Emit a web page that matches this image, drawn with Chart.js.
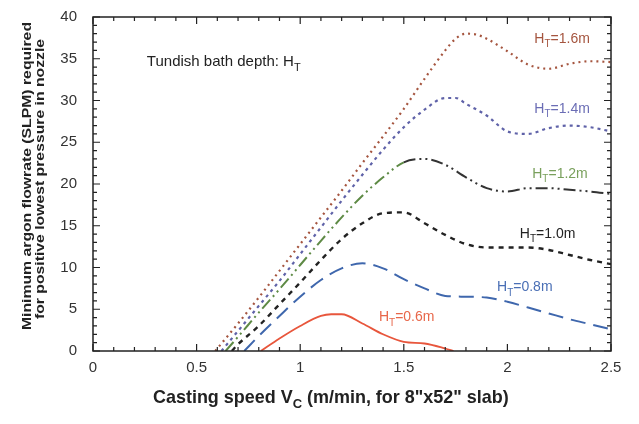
<!DOCTYPE html>
<html>
<head>
<meta charset="utf-8">
<script src="https://cdn.jsdelivr.net/npm/chart.js@4.4.1/dist/chart.umd.min.js"></script>
<style>
  body { margin: 0; background: #fff; }
  #wrap { width: 639px; height: 424px; }
</style>
</head>
<body>
<div id="wrap"><canvas id="flowChart" width="639" height="424"></canvas></div>
<script>
// ===================================
// DATA
// ===================================
const speed16 = [0.59, 0.7, 0.8, 0.9, 1.0, 1.1, 1.2, 1.3, 1.4, 1.5, 1.6, 1.7, 1.75, 1.8, 1.85, 1.9, 2.0, 2.1, 2.2, 2.3, 2.4, 2.5];
const flow16  = [0, 3.3, 6.4, 9.6, 12.8, 16.0, 19.2, 22.5, 25.7, 29.0, 32.6, 36.0, 37.4, 38.0, 37.9, 37.4, 35.9, 34.3, 33.8, 34.4, 34.7, 34.6];

const speed14 = [0.62, 0.7, 0.8, 0.9, 1.0, 1.1, 1.2, 1.3, 1.4, 1.5, 1.6, 1.7, 1.75, 1.8, 1.9, 2.0, 2.1, 2.2, 2.3, 2.4, 2.5];
const flow14  = [0, 2.4, 5.4, 8.4, 11.6, 14.8, 18.0, 21.1, 24.1, 26.8, 28.9, 30.3, 30.3, 29.6, 28.2, 26.3, 26.0, 26.7, 27.0, 26.8, 26.3];

const speed12 = [0.64, 0.7, 0.8, 0.9, 1.0, 1.1, 1.2, 1.3, 1.4, 1.5, 1.6, 1.7, 1.8, 1.9, 2.0, 2.1, 2.2, 2.3, 2.4, 2.5];
const flow12  = [0, 1.7, 4.6, 7.4, 10.3, 13.2, 16.0, 18.6, 20.8, 22.6, 23.0, 22.3, 20.8, 19.5, 19.1, 19.5, 19.5, 19.3, 19.1, 18.8];

const speed10 = [0.67, 0.7, 0.8, 0.9, 1.0, 1.1, 1.2, 1.3, 1.4, 1.5, 1.6, 1.7, 1.8, 1.9, 2.0, 2.1, 2.2, 2.3, 2.4, 2.5];
const flow10  = [0, 0.8, 3.0, 5.6, 8.2, 10.9, 13.4, 15.3, 16.5, 16.6, 15.3, 13.9, 12.8, 12.4, 12.4, 12.4, 12.1, 11.5, 10.9, 10.4];

const speed08 = [0.73, 0.8, 0.9, 1.0, 1.1, 1.2, 1.3, 1.4, 1.5, 1.6, 1.7, 1.8, 1.9, 2.0, 2.1, 2.2, 2.3, 2.4, 2.5];
const flow08  = [0, 1.8, 4.2, 6.5, 8.5, 9.9, 10.5, 9.9, 8.6, 7.5, 6.6, 6.5, 6.4, 5.9, 5.2, 4.5, 3.8, 3.2, 2.6];

const speed06 = [0.81, 0.9, 1.0, 1.1, 1.15, 1.2, 1.3, 1.4, 1.5, 1.6, 1.7, 1.74];
const flow06  = [0, 1.5, 3.0, 4.2, 4.4, 4.4, 3.3, 2.0, 1.1, 0.9, 0.3, 0];

const depthLabels = ["1.6m", "1.4m", "1.2m", "1.0m", "0.8m", "0.6m"];
const xTicks = [0, 0.5, 1, 1.5, 2, 2.5];
const yTicks = [0, 5, 10, 15, 20, 25, 30, 35, 40];

// ===================================
// HELPERS
// ===================================
const FONT = "'Liberation Sans', Arial, Helvetica, sans-serif";

function toPoints(xs, ys) {
  return xs.map((x, i) => ({ x: x, y: ys[i] }));
}

function drawSubText(ctx, parts, x, y, size, color, weight) {
  // parts: [text, subscript, text]
  ctx.save();
  ctx.fillStyle = color;
  ctx.textBaseline = "middle";
  ctx.textAlign = "left";
  let cx = x;
  parts.forEach((p, i) => {
    const isSub = i === 1;
    ctx.font = (weight || "normal") + " " + (isSub ? Math.round(size * 0.7) : size) + "px " + FONT;
    ctx.fillText(p, cx, isSub ? y + size * 0.38 : y);
    cx += ctx.measureText(p).width;
  });
  ctx.restore();
}

function measureSubText(ctx, parts, size, weight) {
  let w = 0;
  parts.forEach((p, i) => {
    ctx.font = (weight || "normal") + " " + (i === 1 ? Math.round(size * 0.7) : size) + "px " + FONT;
    w += ctx.measureText(p).width;
  });
  return w;
}

// curve labels: [value x, value y, colour]
const labelSpots = [
  [2.13, 37.4, "#a5553f"],
  [2.13, 29.0, "#6b6db5"],
  [2.12, 21.2, "#79a05c"],
  [2.06, 14.0, "#222222"],
  [1.95, 7.6, "#4a6fb5"],
  [1.38, 4.0, "#e8674a"]
];

// ===================================
// PLUGINS
// ===================================
const framePlugin = {
  id: "frame",
  afterDraw(chart) {
    const { ctx, chartArea: a, scales } = chart;
    const xs = scales.x, ys = scales.y;
    ctx.save();
    ctx.strokeStyle = "#222";
    ctx.lineWidth = 1.5;
    ctx.strokeRect(a.left, a.top, a.right - a.left, a.bottom - a.top);
    // inward ticks
    ctx.lineWidth = 1.2;
    ctx.beginPath();
    for (let i = 0; i <= 25; i++) {
      const px = xs.getPixelForValue(i / 10);
      const len = i % 5 === 0 ? 7 : 4;
      ctx.moveTo(px, a.bottom); ctx.lineTo(px, a.bottom - len);
      ctx.moveTo(px, a.top); ctx.lineTo(px, a.top + len);
    }
    for (let i = 0; i <= 40; i++) {
      const py = ys.getPixelForValue(i);
      const len = i % 5 === 0 ? 7 : 4;
      ctx.moveTo(a.left, py); ctx.lineTo(a.left + len, py);
      ctx.moveTo(a.right, py); ctx.lineTo(a.right - len, py);
    }
    ctx.stroke();
    ctx.restore();

    // curve labels
    labelSpots.forEach((s, i) => {
      drawSubText(ctx, ["H", "T", "=" + depthLabels[i]], xs.getPixelForValue(s[0]), ys.getPixelForValue(s[1]), 14, s[2]);
    });
    drawSubText(ctx, ["Tundish bath depth: H", "T", ""], xs.getPixelForValue(0.26), ys.getPixelForValue(34.6), 15, "#222");

    // x axis title, sized to the reference width
    const xParts = ["Casting speed V", "C", " (m/min, for 8\"x52\" slab)"];
    const xSize = 15 * 356 / measureSubText(ctx, xParts, 15, "bold");
    drawSubText(ctx, xParts, 153, 398, xSize, "#222", "bold");

    // y axis title, two lines stretched to the reference length
    ctx.save();
    ctx.fillStyle = "#222";
    ctx.textAlign = "center";
    ctx.textBaseline = "middle";
    ctx.font = "bold 12.5px " + FONT;
    const l1 = "Minimum argon flowrate (SLPM) required";
    const l2 = "for positive lowest pressure in nozzle";
    const sx = 308 / ctx.measureText(l1).width;
    ctx.translate(0, 176);
    ctx.rotate(-Math.PI / 2);
    ctx.scale(sx, 1);
    ctx.fillText(l1, 0, 28);
    ctx.fillText(l2, -3 / sx, 41);
    ctx.restore();
  }
};

// ===================================
// CHART
// ===================================
const base = {
  showLine: true,
  pointRadius: 0,
  borderWidth: 2,
  fill: false,
  cubicInterpolationMode: "monotone"
};

new Chart(document.getElementById("flowChart"), {
  type: "scatter",
  data: {
    datasets: [
      Object.assign({}, base, { label: "1.6", data: toPoints(speed16, flow16), borderColor: "#a5553f", borderDash: [2, 4], borderWidth: 2.2 }),
      Object.assign({}, base, { label: "1.4", data: toPoints(speed14, flow14), borderColor: "#5f62a8", borderDash: [3, 4], borderWidth: 2.2 }),
      Object.assign({}, base, {
        label: "1.2", data: toPoints(speed12, flow12), borderColor: "#5e8a45",
        borderDash: [12, 4, 2, 4, 2, 4],
        segment: { borderColor: (c) => (c.p0.parsed.x < 1.5 ? "#5e8a45" : "#333") }
      }),
      Object.assign({}, base, { label: "1.0", data: toPoints(speed10, flow10), borderColor: "#222", borderDash: [5, 5], borderWidth: 2.4 }),
      Object.assign({}, base, { label: "0.8", data: toPoints(speed08, flow08), borderColor: "#3f67ad", borderDash: [15, 8] }),
      Object.assign({}, base, { label: "0.6", data: toPoints(speed06, flow06), borderColor: "#e8563c", borderWidth: 1.8 })
    ]
  },
  options: {
    responsive: false,
    animation: false,
    layout: { padding: { top: 16, right: 28, left: 0, bottom: 0 } },
    plugins: { legend: { display: false }, tooltip: { enabled: false } },
    scales: {
      x: {
        type: "linear", min: 0, max: 2.5,
        grid: { display: false },
        border: { display: false },
        afterFit: (s) => { s.height = 73; },
        afterBuildTicks: (s) => { s.ticks = xTicks.map((v) => ({ value: v })); },
        ticks: { padding: 0, color: "#333", font: { family: FONT, size: 15 }, callback: (v) => String(v) }
      },
      y: {
        type: "linear", min: 0, max: 40,
        grid: { display: false },
        border: { display: false },
        afterFit: (s) => { s.width = 93; },
        afterBuildTicks: (s) => { s.ticks = yTicks.map((v) => ({ value: v })); },
        ticks: { padding: 8, color: "#333", font: { family: FONT, size: 15 }, callback: (v) => String(v) }
      }
    }
  },
  plugins: [framePlugin]
});
</script>
</body>
</html>
